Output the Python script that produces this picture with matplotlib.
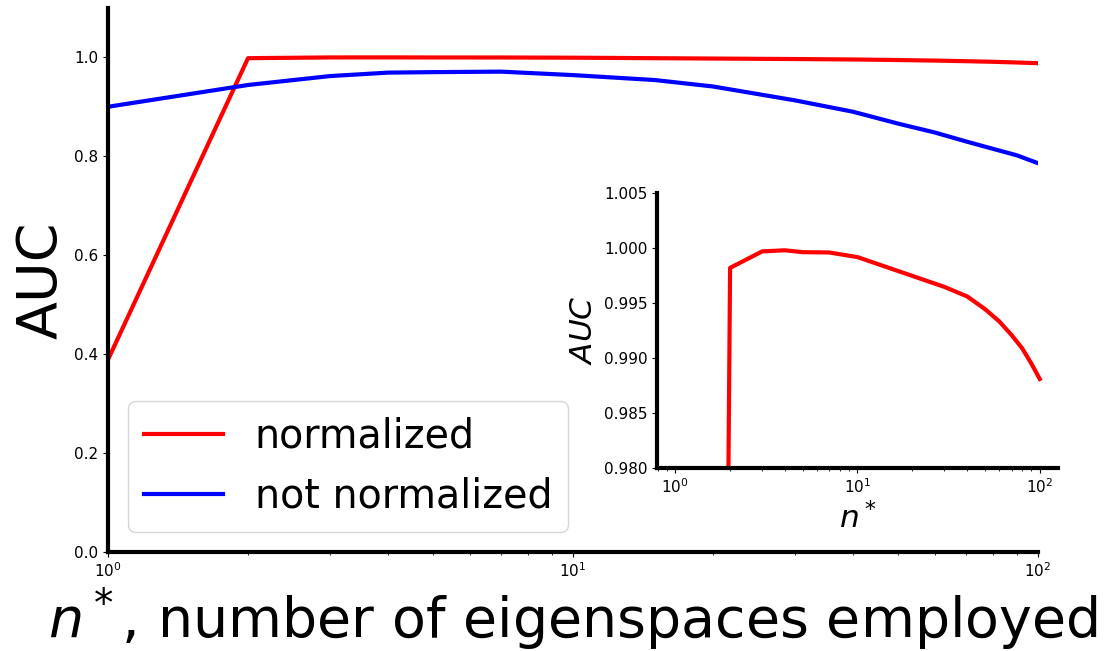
import numpy as np
import matplotlib
matplotlib.use("Agg")
import matplotlib.pyplot as plt

# number of eigenspaces employed
n_star = [1, 2, 3, 4, 5, 7, 10, 15, 20, 30, 40, 50, 60, 70, 80, 90, 100]

auc_normalized = [0.389, 0.9982, 0.9997, 0.9998, 0.99963, 0.9996, 0.99918, 0.99818,
                  0.99747, 0.99647, 0.9956, 0.99446, 0.99333, 0.9921, 0.9909,
                  0.9895, 0.9881]
auc_not_normalized = [0.900, 0.944, 0.962, 0.969, 0.970, 0.971, 0.964, 0.954,
                      0.941, 0.913, 0.890, 0.866, 0.848, 0.830, 0.815, 0.802, 0.786]

fig = plt.figure(figsize=(11.07, 6.51), dpi=100)
ax = fig.add_axes([0.0976, 0.152, 0.84, 0.836])

ax.plot(n_star, auc_normalized, color="red", lw=3, label="normalized")
ax.plot(n_star, auc_not_normalized, color="blue", lw=3, label="not normalized")
ax.set_xscale("log")
ax.set_xlim(1, 100)
ax.set_ylim(0, 1.1)
ax.set_yticks([0.0, 0.2, 0.4, 0.6, 0.8, 1.0])
ax.set_xlabel(r"$n^*$, number of eigenspaces employed", fontsize=40)
ax.set_ylabel("AUC", fontsize=40)
for s in ["top", "right"]:
    ax.spines[s].set_visible(False)
for s in ["left", "bottom"]:
    ax.spines[s].set_linewidth(3)
ax.tick_params(labelsize=11)
ax.legend(loc="lower left", fontsize=28.5)

# inset zoom on the normalized curve
ins = fig.add_axes([0.5935, 0.281, 0.3622, 0.4224])
ins.plot(n_star, auc_normalized, color="red", lw=3)
ins.set_xscale("log")
ins.set_ylim(0.98, 1.005)
ins.set_yticks([0.980, 0.985, 0.990, 0.995, 1.000, 1.005])
ins.set_xlabel(r"$n^*$", fontsize=22.5)
ins.set_ylabel(r"$AUC$", fontsize=22.5)
for s in ["top", "right"]:
    ins.spines[s].set_visible(False)
for s in ["left", "bottom"]:
    ins.spines[s].set_linewidth(3)
ins.tick_params(labelsize=11)

fig.savefig("out.png", dpi=100)
